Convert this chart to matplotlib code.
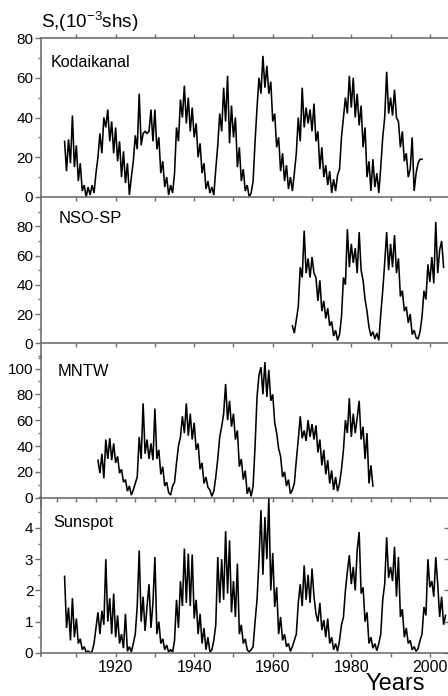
import numpy as np
import matplotlib
matplotlib.use('Agg')
import matplotlib.pyplot as plt
from matplotlib.ticker import MultipleLocator, FixedLocator, NullFormatter

plt.rcParams['font.family'] = ['Liberation Sans', 'DejaVu Sans']
plt.rcParams['mathtext.fontset'] = 'custom'
plt.rcParams['mathtext.rm'] = 'Liberation Sans'
plt.rcParams['mathtext.it'] = 'Liberation Sans:italic'

# ---------------- data (half-year samples) ----------------
STEP = 0.5

kod_start = 1907.0
kod_values = [
    28, 13, 29, 17, 41, 15, 26, 8, 17, 3, 6, 0, 5, 1, 6, 2,
    12, 20, 32, 22, 40, 35, 44, 28, 38, 22, 35, 18, 28, 10, 23, 7,
    17, 1, 10, 18, 31, 24, 52, 26, 32, 33, 32, 33, 44, 28, 44, 24,
    30, 12, 18, 5, 10, 1, 6, 2, 12, 35, 28, 49, 40, 56, 37, 50,
    33, 45, 30, 37, 20, 27, 12, 17, 4, 8, 2, 5, 1, 14, 26, 42,
    33, 55, 38, 61, 27, 46, 30, 40, 15, 25, 8, 14, 3, 6, 0, 2,
    8, 28, 45, 60, 52, 71, 55, 66, 52, 58, 38, 42, 25, 30, 13, 22,
    8, 16, 4, 10, 3, 12, 22, 40, 28, 55, 35, 45, 37, 44, 33, 47,
    28, 33, 14, 25, 10, 16, 6, 13, 2, 9, 3, 11, 14, 30, 40, 50,
    42, 61, 45, 60, 40, 52, 36, 46, 25, 35, 10, 18, 3, 19, 5, 12,
    2, 15, 30, 40, 63, 42, 50, 41, 54, 40, 38, 25, 33, 18, 22, 10,
    14, 30, 3, 12, 17, 19, 19,
]

nso_start = 1965.0
nso_values = [
    12, 7, 16, 25, 52, 45, 77, 48, 58, 45, 59, 48, 45, 29, 43, 22,
    29, 17, 24, 12, 15, 5, 9, 2, 6, 18, 45, 40, 78, 52, 68, 55,
    65, 48, 76, 50, 43, 30, 22, 11, 5, 8, 3, 7, 2, 20, 36, 55,
    76, 50, 68, 52, 74, 48, 58, 32, 36, 22, 25, 14, 20, 6, 9, 4,
    3, 8, 18, 36, 30, 54, 42, 59, 41, 83, 48, 64, 70, 52,
]

mntw_start = 1915.5
mntw_values = [
    29, 19, 34, 15, 45, 30, 46, 29, 42, 27, 32, 19, 22, 12, 14, 5,
    9, 2, 6, 11, 16, 47, 30, 73, 34, 45, 30, 42, 29, 69, 30, 37,
    18, 24, 9, 12, 4, 2, 9, 12, 27, 40, 47, 63, 50, 73, 48, 65,
    45, 58, 37, 42, 22, 27, 11, 16, 8, 6, 1, 5, 16, 30, 47, 55,
    65, 88, 60, 75, 55, 65, 45, 52, 24, 30, 14, 21, 3, 8, 1, 9,
    40, 78, 95, 101, 80, 105, 78, 99, 75, 80, 58, 50, 38, 32, 16, 20,
    9, 14, 3, 6, 11, 29, 45, 63, 46, 52, 44, 60, 47, 57, 45, 56,
    35, 45, 25, 37, 18, 29, 11, 21, 6, 16, 5, 11, 22, 37, 60, 50,
    77, 47, 65, 50, 62, 75, 45, 55, 30, 50, 11, 25, 9,
]

ssn_start = 1907.0
ssn_values = [
    2.45, 0.8, 1.45, 0.4, 1.75, 0.5, 1.1, 0.3, 0.45, 0.1, 0.2, 0.02, 0.06, 0.0, 0.05, 0.3,
    0.8, 1.3, 0.6, 1.35, 0.9, 3.0, 1.0, 1.75, 0.6, 1.9, 0.5, 1.2, 0.3, 0.6, 0.15, 1.25,
    0.05, 0.2, 0.03, 0.3, 0.6, 1.5, 3.28, 1.0, 1.8, 0.7, 1.5, 2.2, 0.8, 1.6, 3.07, 0.6,
    1.0, 0.3, 0.45, 0.1, 0.25, 0.03, 0.1, 0.02, 0.4, 1.7, 0.8, 2.3, 1.5, 3.34, 1.6, 3.18,
    1.5, 3.15, 1.1, 1.7, 0.6, 1.25, 0.3, 0.8, 0.1, 0.5, 0.03, 0.1, 0.4, 0.9, 3.07, 1.6,
    3.0, 1.7, 3.9, 1.9, 3.6, 1.3, 2.3, 1.15, 2.86, 0.6, 0.9, 0.3, 0.45, 0.1, 0.03, 0.1,
    0.2, 1.0, 1.7, 2.97, 4.57, 2.5, 4.35, 3.0, 4.95, 2.0, 3.2, 1.47, 2.1, 0.6, 1.15, 0.4,
    0.6, 0.2, 0.3, 0.05, 0.2, 0.4, 0.6, 1.6, 2.2, 1.5, 2.8, 1.7, 2.5, 1.6, 2.7, 1.8,
    1.26, 1.0, 1.6, 0.73, 1.05, 0.5, 1.1, 0.3, 0.5, 0.1, 0.3, 0.05, 0.4, 0.9, 1.15, 2.0,
    2.6, 3.13, 2.2, 2.75, 2.0, 3.3, 3.87, 1.9, 2.1, 1.0, 1.3, 0.3, 0.5, 0.15, 0.3, 0.07,
    0.3, 0.6, 1.7, 2.2, 3.7, 2.4, 2.75, 2.3, 3.4, 1.8, 3.07, 1.15, 1.4, 0.5, 0.8, 0.3,
    0.4, 0.1, 0.2, 0.05, 0.14, 0.4, 0.6, 1.47, 1.2, 3.0, 2.1, 2.3, 1.8, 3.07, 2.2, 1.15,
    1.8, 0.9, 1.2,
]

panel_names = ["Kodaikanal", "NSO-SP", "MNTW", "Sunspot"]
x_ticks = [1920, 1940, 1960, 1980, 2000]
x_range = (1901.0, 2005.0)

# ---------------- layout ----------------
W, H = 448, 696
fig = plt.figure(figsize=(W / 100, H / 100), dpi=100)


def rect(x0, y0, x1, y1):
    return [x0 / W, 1 - y1 / H, (x1 - x0) / W, (y1 - y0) / H]


AXC = '#707070'
LEFT, RIGHT = 41, 449.5

panels = [
    dict(name=panel_names[0], start=kod_start, vals=kod_values, ylim=(0, 80),
         yt=[0, 20, 40, 60, 80], ymin=10, box=(38, 197), lab=(51, 67), fs=11.6,
         xminor=10),
    dict(name=panel_names[1], start=nso_start, vals=nso_values, ylim=(-10, 100),
         yt=[0, 20, 40, 60, 80], ymin=10, box=(197, 358), lab=(59, 223), fs=11.9,
         xminor=10),
    dict(name=panel_names[2], start=mntw_start, vals=mntw_values, ylim=(-8, 110),
         yt=[0, 20, 40, 60, 80, 100], ymin=10, box=(355.6, 508), lab=(58, 376), fs=11.9,
         xminor=5),
    dict(name=panel_names[3], start=ssn_start, vals=ssn_values, ylim=(-0.1, 5),
         yt=[0, 1, 2, 3, 4], ymin=0.5, box=(496.75, 656), lab=(53, 527), fs=11.8,
         xminor=10),
]

for i, p in enumerate(panels):
    ax = fig.add_axes(rect(LEFT, p['box'][0], RIGHT, p['box'][1]))
    ax.patch.set_visible(False)
    vals = np.array(p['vals'], dtype=float)
    yrs = p['start'] + STEP * np.arange(len(vals))
    ax.plot(yrs, vals, color='black', lw=1.15, solid_joinstyle='miter')
    ax.set_xlim(*x_range)
    ax.set_ylim(*p['ylim'])

    for s in ax.spines.values():
        s.set_color(AXC)
        s.set_linewidth(1.2)
    ax.spines['right'].set_visible(i == 3)
    ax.spines['top'].set_visible(i == 0)
    ax.spines['bottom'].set_position(('data', 0))

    ax.xaxis.set_major_locator(FixedLocator(x_ticks))
    ax.xaxis.set_minor_locator(MultipleLocator(p['xminor']))
    ax.tick_params(axis='x', which='both', direction='out', length=3, width=1,
                   color=AXC, top=(i == 0), bottom=True,
                   labelbottom=(i == 3), labelsize=11.5, pad=2)
    ax.yaxis.set_major_locator(FixedLocator(p['yt']))
    ax.yaxis.set_minor_locator(MultipleLocator(p['ymin']))
    ax.yaxis.set_minor_formatter(NullFormatter())
    ax.tick_params(axis='y', which='major', direction='out', length=4, width=1,
                   color=AXC, labelsize=11, pad=1.5)
    ax.tick_params(axis='y', which='minor', direction='out', length=2, width=1,
                   color=AXC)
    if i == 3:
        ax.tick_params(axis='y', which='major', right=True, labelright=False)
        ax.tick_params(axis='y', which='minor', right=False)
        for t in ax.yaxis.get_major_ticks():
            t.tick2line.set_marker(matplotlib.lines.TICKLEFT)
    ax.set_axisbelow(False)

    fig.text(p['lab'][0] / W, 1 - p['lab'][1] / H, p['name'], fontsize=p['fs'],
             va='baseline', ha='left')

fig.text(41 / W, 1 - 28 / H, r'S,(10$^{-3}$shs)', fontsize=13.6, va='baseline', ha='left')
fig.text(365 / W, 1 - 690 / H, 'Years', fontsize=17, va='baseline', ha='left',
         family=['Liberation Sans Narrow', 'Liberation Sans'])

fig.savefig('out.png', dpi=100)
